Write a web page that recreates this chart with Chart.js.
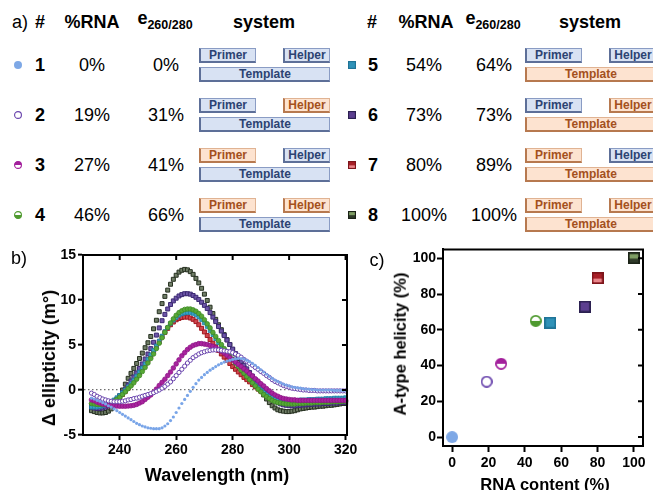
<!DOCTYPE html>
<html>
<head>
<meta charset="utf-8">
<script src="https://cdn.jsdelivr.net/npm/chart.js@4.4.1/dist/chart.umd.min.js"></script>
<style>
  body { margin: 0; background: #fff; font-family: "Liberation Sans", Arial, sans-serif; }
  #page { position: relative; width: 653px; height: 490px; overflow: hidden; }
  .t { position: absolute; white-space: nowrap; transform: translate(-50%, -50%); font-size: 18px; color: #000; line-height: 1; }
  .b { font-weight: bold; }
  .t sub { font-size: 12.5px; font-weight: bold; vertical-align: -5px; }
  .rot { transform: translate(-50%, -50%) rotate(-90deg); }
  .box { position: absolute; height: 15px; box-sizing: border-box; font-size: 12px; font-weight: bold;
         text-align: center; line-height: 12px; white-space: nowrap; overflow: hidden; }
  .dna { background: #d8e2f3; border: 1px solid #8a9cc4; border-left: 2px solid #5d6f98; border-bottom: 2px solid #5d6f98; color: #2c4372; }
  .rna { background: #fde3d0; border: 1px solid #e0b393; border-left: 2px solid #b7794f; border-bottom: 2px solid #b7794f; color: #a4501c; }
  canvas { position: absolute; }
</style>
</head>
<body>
<div id="page">
  <canvas id="cd" width="360" height="250" style="left:0;top:240px"></canvas>
  <canvas id="hel" width="293" height="250" style="left:360px;top:240px"></canvas>
</div>
<script>
// ---- panel a: table ----
const sampleIds = [1, 2, 3, 4, 5, 6, 7, 8];
const pctRNA = [0, 19, 27, 46, 54, 73, 80, 100];
const e260280 = [0, 31, 41, 66, 64, 73, 89, 100];
const primerIsRNA = [0, 0, 1, 1, 0, 0, 1, 1];
const helperIsRNA = [0, 1, 0, 1, 0, 1, 0, 1];
const templateIsRNA = [0, 0, 0, 0, 1, 1, 1, 1];

// ---- panel b: CD spectra ----
const wavelength = [230,231,232,233,234,235,236,237,238,239,240,241,242,243,244,245,246,247,248,249,
  250,251,252,253,254,255,256,257,258,259,260,261,262,263,264,265,266,267,268,269,
  270,271,272,273,274,275,276,277,278,279,280,281,282,283,284,285,286,287,288,289,
  290,291,292,293,294,295,296,297,298,299,300,301,302,303,304,305,306,307,308,309,
  310,311,312,313,314,315,316,317,318,319,320];
const cd1 = [-0.9,-1.0,-1.15,-1.25,-1.4,-1.55,-1.75,-1.9,-2.1,-2.3,
  -2.5,-2.7,-2.9,-3.1,-3.3,-3.5,-3.7,-3.85,-4.0,-4.1,
  -4.2,-4.25,-4.3,-4.3,-4.3,-4.2,-4.0,-3.75,-3.4,-3.0,
  -2.5,-2.0,-1.5,-1.05,-0.6,-0.15,0.3,0.7,1.1,1.4,
  1.7,1.95,2.2,2.4,2.6,2.8,2.95,3.1,3.2,3.3,
  3.4,3.45,3.5,3.5,3.45,3.3,3.15,2.95,2.75,2.5,
  2.25,2.0,1.75,1.5,1.3,1.1,0.95,0.8,0.65,0.55,
  0.45,0.35,0.3,0.25,0.2,0.15,0.1,0.1,0.05,0.05,
  0.0,0.0,0.0,0.0,0.0,0.0,-0.05,-0.05,-0.05,-0.05,-0.05];
const cd2 = [-0.35,-0.5,-0.7,-0.85,-1.0,-1.1,-1.2,-1.25,-1.3,-1.3,
  -1.3,-1.25,-1.2,-1.1,-1.05,-0.95,-0.9,-0.8,-0.7,-0.6,
  -0.5,-0.4,-0.3,-0.15,0.0,0.2,0.4,0.65,0.9,1.25,
  1.6,1.95,2.3,2.65,3.0,3.3,3.6,3.8,4.0,4.15,
  4.25,4.35,4.4,4.45,4.45,4.45,4.4,4.35,4.3,4.25,
  4.15,4.0,3.85,3.65,3.4,3.2,2.95,2.75,2.5,2.3,
  2.05,1.85,1.6,1.4,1.15,0.95,0.8,0.65,0.5,0.4,
  0.3,0.2,0.15,0.1,0.05,0.0,0.0,-0.05,-0.05,-0.05,
  -0.1,-0.1,-0.1,-0.1,-0.1,-0.1,-0.1,-0.1,-0.1,-0.1,-0.1];
const cd3 = [-1.1,-1.2,-1.35,-1.45,-1.55,-1.6,-1.7,-1.72,-1.75,-1.78,
  -1.8,-1.8,-1.8,-1.78,-1.75,-1.7,-1.6,-1.45,-1.3,-1.05,
  -0.8,-0.55,-0.25,0.1,0.5,0.85,1.2,1.6,2.0,2.45,
  2.9,3.35,3.8,4.15,4.5,4.75,4.95,5.05,5.15,5.15,
  5.1,5.05,4.95,4.85,4.7,4.5,4.3,4.1,3.85,3.6,
  3.35,3.1,2.85,2.6,2.35,2.1,1.8,1.55,1.25,1.0,
  0.7,0.45,0.15,-0.1,-0.35,-0.55,-0.7,-0.85,-0.95,-1.0,
  -1.05,-1.1,-1.1,-1.15,-1.15,-1.15,-1.15,-1.15,-1.15,-1.15,
  -1.15,-1.15,-1.15,-1.15,-1.15,-1.15,-1.15,-1.15,-1.15,-1.15,-1.15];
const cd4 = [-1.5,-1.55,-1.6,-1.6,-1.6,-1.55,-1.5,-1.4,-1.25,-1.05,
  -0.8,-0.5,-0.2,0.15,0.45,0.8,1.2,1.6,2.05,2.5,
  3.0,3.5,4.0,4.6,5.2,5.8,6.4,6.95,7.45,7.9,
  8.3,8.6,8.8,8.95,9.0,9.0,8.9,8.75,8.5,8.2,
  7.8,7.35,6.9,6.4,5.95,5.5,5.05,4.6,4.2,3.8,
  3.4,3.0,2.6,2.2,1.85,1.5,1.15,0.8,0.45,0.1,
  -0.2,-0.5,-0.75,-0.95,-1.15,-1.3,-1.4,-1.45,-1.5,-1.55,
  -1.55,-1.55,-1.55,-1.5,-1.5,-1.5,-1.45,-1.45,-1.45,-1.4,
  -1.4,-1.4,-1.35,-1.35,-1.35,-1.3,-1.3,-1.3,-1.3,-1.25,-1.25];
const cd5 = [-1.9,-1.9,-1.9,-1.85,-1.75,-1.65,-1.5,-1.3,-1.1,-0.85,
  -0.6,-0.3,0.0,0.35,0.7,1.1,1.55,2.0,2.45,2.9,
  3.4,3.9,4.4,4.9,5.45,6.0,6.5,6.95,7.4,7.75,
  8.05,8.3,8.45,8.55,8.6,8.6,8.5,8.35,8.1,7.8,
  7.45,7.05,6.6,6.15,5.7,5.25,4.85,4.45,4.05,3.7,
  3.35,3.0,2.65,2.3,1.95,1.6,1.25,0.9,0.6,0.3,
  0.0,-0.25,-0.5,-0.7,-0.85,-1.0,-1.1,-1.15,-1.2,-1.2,
  -1.2,-1.2,-1.15,-1.15,-1.1,-1.1,-1.1,-1.05,-1.05,-1.05,
  -1.0,-1.0,-1.0,-0.95,-0.95,-0.95,-0.9,-0.9,-0.9,-0.9,-0.85];
const cd6 = [-1.9,-2.0,-2.05,-2.05,-2.0,-1.9,-1.75,-1.55,-1.3,-1.0,
  -0.65,-0.3,0.1,0.55,1.0,1.45,1.9,2.4,2.9,3.45,
  4.0,4.6,5.3,6.1,6.9,7.7,8.4,9.0,9.5,9.9,
  10.2,10.45,10.6,10.7,10.7,10.65,10.5,10.3,10.05,9.75,
  9.4,9.05,8.6,8.1,7.6,7.05,6.55,6.05,5.55,5.05,
  4.55,4.05,3.6,3.15,2.75,2.35,1.95,1.55,1.15,0.75,
  0.35,0.0,-0.35,-0.65,-0.95,-1.2,-1.4,-1.55,-1.65,-1.7,
  -1.75,-1.75,-1.75,-1.7,-1.7,-1.65,-1.65,-1.6,-1.6,-1.55,
  -1.55,-1.55,-1.5,-1.5,-1.5,-1.45,-1.45,-1.45,-1.4,-1.4,-1.4];
const cd7 = [-1.7,-1.8,-1.85,-1.9,-1.9,-1.85,-1.75,-1.6,-1.4,-1.15,
  -0.85,-0.5,-0.15,0.2,0.6,1.0,1.45,1.9,2.4,2.85,
  3.3,3.8,4.3,4.8,5.35,5.9,6.4,6.85,7.25,7.55,
  7.8,7.95,8.05,8.1,8.1,8.0,7.85,7.6,7.25,6.85,
  6.45,6.05,5.6,5.2,4.8,4.4,4.0,3.65,3.3,2.95,
  2.6,2.3,2.0,1.7,1.4,1.15,0.9,0.6,0.35,0.1,
  -0.15,-0.4,-0.65,-0.85,-1.05,-1.2,-1.3,-1.4,-1.45,-1.5,
  -1.5,-1.5,-1.5,-1.5,-1.45,-1.45,-1.45,-1.4,-1.4,-1.4,
  -1.4,-1.35,-1.35,-1.35,-1.35,-1.3,-1.3,-1.3,-1.3,-1.25,-1.25];
const cd8 = [-2.3,-2.4,-2.5,-2.55,-2.55,-2.5,-2.35,-2.1,-1.75,-1.25,
  -0.65,0.0,0.65,1.3,1.85,2.4,2.95,3.5,4.1,4.7,
  5.25,5.95,6.8,7.75,8.7,9.6,10.4,11.1,11.75,12.3,
  12.75,13.1,13.3,13.4,13.35,13.15,12.85,12.4,11.9,11.3,
  10.65,9.95,9.2,8.5,7.85,7.25,6.7,6.15,5.6,5.05,
  4.5,4.0,3.5,3.0,2.5,2.05,1.6,1.2,0.8,0.35,
  -0.1,-0.55,-1.0,-1.4,-1.75,-2.0,-2.2,-2.3,-2.35,-2.4,
  -2.4,-2.35,-2.3,-2.2,-2.1,-2.05,-2.0,-1.95,-1.9,-1.9,
  -1.85,-1.8,-1.8,-1.75,-1.7,-1.7,-1.65,-1.6,-1.55,-1.5,-1.5];
const cdXTicks = [240, 260, 280, 300, 320];
const cdYTicks = [-5, 0, 5, 10, 15];

// ---- panel c: helicity vs RNA content ----
const rnaContent = [0, 19, 27, 46, 54, 73, 80, 100];
const helicity = [0, 31, 41, 65, 64, 73, 89, 100];
const helXTicks = [0, 20, 40, 60, 80, 100];
const helYTicks = [0, 20, 40, 60, 80, 100];

const FONT = '"Liberation Sans", Arial, sans-serif';
Chart.defaults.font.family = FONT;
Chart.defaults.color = '#000';

// marker look for each sample (used by the table and by panel c)
const markerLook = [
  ['dot', '#7ea8e6'],
  ['open', '#6a45ad'],
  ['halfTop', '#a3209c'],
  ['halfBottom', '#4f9a2f'],
  ['sq', '#2f92b8', null, '#1f7396'],
  ['sq', '#5c3f90', null, '#2b2050'],
  ['sqLow', '#a81f27', '#e9868b', '#7d151b'],
  ['sqHigh', '#2f3a29', '#7f9e64', '#1b2217']
];

function makeMarker(look, size) {
  const [style, main, accent, edge] = look;
  const cv = document.createElement('canvas');
  cv.width = size; cv.height = size;
  const g = cv.getContext('2d');
  const m = size / 2;
  const lw = Math.max(1, size / 7);
  if (style.startsWith('sq')) {
    g.fillStyle = edge; g.fillRect(0, 0, size, size);
    g.fillStyle = main; g.fillRect(lw, lw, size - 2 * lw, size - 2 * lw);
    g.fillStyle = accent;
    if (style === 'sqLow') g.fillRect(lw, size * 0.55, size - 2 * lw, size * 0.45 - lw);
    if (style === 'sqHigh') g.fillRect(lw, lw, size - 2 * lw, size * 0.38);
  } else {
    const r = m - lw / 2;
    g.beginPath(); g.arc(m, m, style === 'dot' ? m : r, 0, 2 * Math.PI);
    g.fillStyle = style === 'dot' ? main : '#fff'; g.fill();
    if (style === 'halfTop' || style === 'halfBottom') {
      g.beginPath();
      if (style === 'halfTop') g.arc(m, m, r, Math.PI, 2 * Math.PI);
      else g.arc(m, m, r, 0, Math.PI);
      g.closePath(); g.fillStyle = main; g.fill();
    }
    if (style !== 'dot') {
      g.beginPath(); g.arc(m, m, r, 0, 2 * Math.PI);
      g.lineWidth = lw; g.strokeStyle = main; g.stroke();
    }
  }
  return cv;
}

// ---- build the table ----
const page = document.getElementById('page');
function text(html, x, y, cls, size) {
  const d = document.createElement('div');
  d.className = 't ' + (cls || '');
  d.innerHTML = html;
  d.style.left = x + 'px'; d.style.top = y + 'px';
  if (size) d.style.fontSize = size + 'px';
  page.appendChild(d);
  return d;
}
function box(label, isRNA, x, y, w) {
  const d = document.createElement('div');
  d.className = 'box ' + (isRNA ? 'rna' : 'dna');
  d.textContent = label;
  d.style.left = x + 'px'; d.style.top = y + 'px'; d.style.width = w + 'px';
  page.appendChild(d);
}

text('a)', 20, 22);
const halves = [
  { mark: 18, num: 40, pct: 92, e: 166, sys: 199, head: { num: 40, pct: 92, e: 165, sys: 264 } },
  { mark: 352, num: 373, pct: 424, e: 494, sys: 525, head: { num: 372, pct: 426, e: 493, sys: 590 } }
];
halves.forEach(h => {
  text('#', h.head.num, 22, 'b');
  text('%RNA', h.head.pct, 22, 'b');
  text('e<sub>260/280</sub>', h.head.e, 20, 'b');
  text('system', h.head.sys, 22, 'b');
});
sampleIds.forEach((id, i) => {
  const h = halves[i < 4 ? 0 : 1];
  const yc = 65 + 50 * (i % 4);
  const mk = makeMarker(markerLook[i], 8);
  mk.style.left = (h.mark - 4) + 'px'; mk.style.top = (yc - 4) + 'px';
  page.appendChild(mk);
  text(String(id), h.num, yc, 'b');
  text(pctRNA[i] + '%', h.pct, yc);
  text(e260280[i] + '%', h.e, yc);
  box('Primer', primerIsRNA[i], h.sys, yc - 17, 57);
  box('Helper', helperIsRNA[i], h.sys + 84, yc - 17, 47);
  box('Template', templateIsRNA[i], h.sys, yc + 2, 131);
});

// ---- panel labels and axis titles ----
text('b)', 19, 258);
text('c)', 377, 260);
text('Wavelength (nm)', 217, 475, 'b');
text('\u0394 ellipticity (m\u00b0)', 49, 358, 'b rot');
text('A-type helicity (%)', 400, 344, 'b rot', 16.5);
text('RNA content (%)', 545, 484, 'b', 16.5);

// frame on the top and right sides with inward ticks
const framePlugin = {
  id: 'frame',
  afterDraw(chart, args, opts) {
    const { ctx, chartArea: a, scales: { x, y } } = chart;
    ctx.save();
    ctx.strokeStyle = '#000';
    ctx.lineWidth = 2;
    ctx.beginPath();
    ctx.moveTo(a.left - 1, a.top);
    ctx.lineTo(a.right, a.top);
    ctx.lineTo(a.right, a.bottom + 1);
    ctx.stroke();
    ctx.lineWidth = 2;
    ctx.beginPath();
    if (opts.topTicks) {
      x.ticks.forEach(t => {
        const px = x.getPixelForValue(t.value);
        ctx.moveTo(px, a.top); ctx.lineTo(px, a.top + opts.len);
      });
    }
    y.ticks.forEach(t => {
      const py = y.getPixelForValue(t.value);
      ctx.moveTo(a.right, py); ctx.lineTo(a.right - opts.len, py);
    });
    ctx.stroke();
    ctx.restore();
  }
};

const tickFont = { family: FONT, size: 14, weight: 'bold' };
function axis(min, max, ticks, extra) {
  return Object.assign({
    type: 'linear', min, max,
    afterBuildTicks: ax => { ax.ticks = ticks.map(v => ({ value: v })); },
    border: { color: '#000', width: 2 },
    ticks: { color: '#000', font: tickFont, maxRotation: 0, padding: 2 }
  }, extra);
}

// ---- panel b chart ----
const cdSeries = [cd1, cd2, cd3, cd4, cd5, cd6, cd7, cd8];
const cdStyles = [
  { pointStyle: 'circle', pointRadius: 1.6, backgroundColor: '#79a5e8', borderColor: '#79a5e8', borderWidth: 0 },
  { pointStyle: 'circle', pointRadius: 2.1, backgroundColor: '#fff', borderColor: '#6a45ad', borderWidth: 1 },
  { pointStyle: 'circle', pointRadius: 2.3, backgroundColor: '#a9239f', borderColor: '#8d1585', borderWidth: 0.8 },
  { pointStyle: 'circle', pointRadius: 2.3, backgroundColor: '#56a836', borderColor: '#3f8a24', borderWidth: 0.8 },
  { pointStyle: 'rect', pointRadius: 2.6, backgroundColor: '#3aa2c6', borderColor: '#1d7fa3', borderWidth: 0.8 },
  { pointStyle: 'rect', pointRadius: 2.8, backgroundColor: '#6d55a8', borderColor: '#3c2a73', borderWidth: 1 },
  { pointStyle: 'rect', pointRadius: 2.8, backgroundColor: '#d0454d', borderColor: '#a11a22', borderWidth: 1 },
  { pointStyle: 'rect', pointRadius: 2.8, backgroundColor: '#6f7d66', borderColor: '#263020', borderWidth: 1 }
];

new Chart(document.getElementById('cd'), {
  type: 'scatter',
  data: {
    datasets: cdSeries.map((s, k) => Object.assign({
      label: String(sampleIds[k]),
      data: wavelength.map((w, i) => ({ x: w, y: s[i] })),
      showLine: false,
      clip: false
    }, cdStyles[k]))
  },
  options: {
    responsive: false, animation: false, devicePixelRatio: 1,
    layout: { padding: { top: 15, right: 13, left: 0, bottom: 0 } },
    plugins: { legend: { display: false }, tooltip: { enabled: false }, frame: { topTicks: true, len: 5 } },
    scales: {
      x: axis(227, 320.5, cdXTicks, {
        afterFit: s => { s.height = 55; },
        grid: { drawOnChartArea: false, tickLength: 5, tickWidth: 2, tickColor: '#000' }
      }),
      y: axis(-5, 15, cdYTicks, {
        afterFit: s => { s.width = 83; },
        grid: {
          color: c => (c.tick && c.tick.value === 0) ? '#6e6e6e' : 'rgba(0,0,0,0)',
          lineWidth: 1.3, tickLength: 5, tickWidth: 2, tickColor: '#000'
        },
        border: { color: '#000', width: 2, dash: [1.5, 2.5] }
      })
    }
  },
  plugins: [framePlugin]
});

// ---- panel c chart ----
new Chart(document.getElementById('hel'), {
  type: 'scatter',
  data: {
    datasets: [{
      label: 'A-type helicity',
      data: rnaContent.map((v, i) => ({ x: v, y: helicity[i] })),
      pointStyle: markerLook.map(l => makeMarker(l, 12)),
      pointRadius: 6,
      clip: false
    }]
  },
  options: {
    responsive: false, animation: false, devicePixelRatio: 1,
    layout: { padding: { top: 6, right: 10, left: 0, bottom: 0 } },
    plugins: { legend: { display: false }, tooltip: { enabled: false }, frame: { topTicks: false, len: 5 } },
    scales: {
      x: axis(-5, 105, helXTicks, {
        afterFit: s => { s.height = 44; },
        grid: { drawOnChartArea: false, tickLength: 6, tickWidth: 2, tickColor: '#000' },
        ticks: { color: '#000', font: tickFont, maxRotation: 0, padding: 3 }
      }),
      y: axis(-5, 105, helYTicks, {
        afterFit: s => { s.width = 83; },
        grid: { drawOnChartArea: false, tickLength: 6, tickWidth: 2, tickColor: '#000' },
        ticks: { color: '#000', font: tickFont, padding: 1 }
      })
    }
  },
  plugins: [framePlugin]
});
</script>
</body>
</html>
